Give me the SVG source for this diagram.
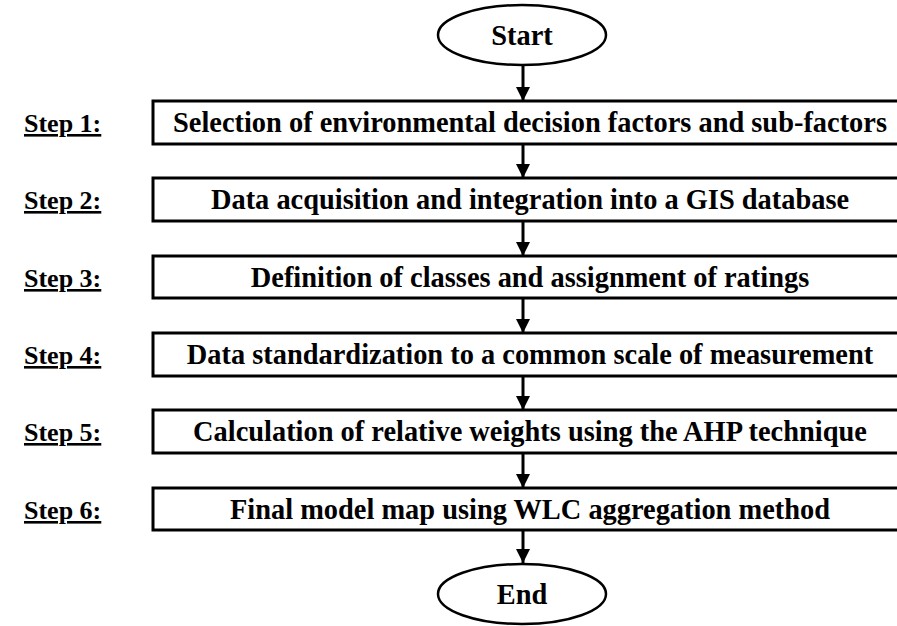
<svg xmlns="http://www.w3.org/2000/svg" width="897" height="626" viewBox="0 0 897 626">
<style>
  .box{fill:#fff;stroke:#000;stroke-width:3}
  .term{fill:#fff;stroke:#000;stroke-width:2.5}
  .t{font-family:"Liberation Serif","Times New Roman",serif;font-weight:bold;font-size:28.4px;fill:#000;text-anchor:middle}
  .s{font-family:"Liberation Serif","Times New Roman",serif;font-weight:bold;font-size:26px;fill:#000;text-decoration:underline}
  .c{stroke:#000;stroke-width:3;fill:none}
</style>
<defs>
  <marker id="ah" markerUnits="userSpaceOnUse" markerWidth="14" markerHeight="14" refX="14" refY="7" orient="auto" viewBox="0 0 14 14">
    <path d="M0,0 L14,7 L0,14 z" fill="#000"/>
  </marker>
</defs>
<rect width="897" height="626" fill="#fff"/>
<g id="connectors">
  <line class="c" x1="523" y1="65" x2="523" y2="101" marker-end="url(#ah)"/>
  <line class="c" x1="523" y1="144" x2="523" y2="178" marker-end="url(#ah)"/>
  <line class="c" x1="523" y1="221" x2="523" y2="256" marker-end="url(#ah)"/>
  <line class="c" x1="523" y1="298" x2="523" y2="333" marker-end="url(#ah)"/>
  <line class="c" x1="523" y1="376" x2="523" y2="410" marker-end="url(#ah)"/>
  <line class="c" x1="523" y1="453" x2="523" y2="488" marker-end="url(#ah)"/>
  <line class="c" x1="523" y1="530" x2="523" y2="563" marker-end="url(#ah)"/>
</g>
<g id="start">
  <ellipse class="term" cx="522" cy="35" rx="84" ry="30"/>
  <text class="t" x="522" y="45">Start</text>
</g>
<g id="step1">
  <text class="s" x="24" y="132">Step 1:</text>
  <rect class="box" x="153" y="101" width="760" height="43"/>
  <text class="t" x="530" y="132">Selection of environmental decision factors and sub-factors</text>
</g>
<g id="step2">
  <text class="s" x="24" y="209">Step 2:</text>
  <rect class="box" x="153" y="178" width="760" height="43"/>
  <text class="t" x="530" y="209">Data acquisition and integration into a GIS database</text>
</g>
<g id="step3">
  <text class="s" x="24" y="287">Step 3:</text>
  <rect class="box" x="153" y="256" width="760" height="42"/>
  <text class="t" x="530" y="287">Definition of classes and assignment of ratings</text>
</g>
<g id="step4">
  <text class="s" x="24" y="364">Step 4:</text>
  <rect class="box" x="153" y="333" width="760" height="43"/>
  <text class="t" x="530" y="364">Data standardization to a common scale of measurement</text>
</g>
<g id="step5">
  <text class="s" x="24" y="441">Step 5:</text>
  <rect class="box" x="153" y="410" width="760" height="43"/>
  <text class="t" x="530" y="441">Calculation of relative weights using the AHP technique</text>
</g>
<g id="step6">
  <text class="s" x="24" y="519">Step 6:</text>
  <rect class="box" x="153" y="488" width="760" height="42"/>
  <text class="t" x="530" y="519">Final model map using WLC aggregation method</text>
</g>
<g id="end">
  <ellipse class="term" cx="522" cy="594" rx="84" ry="30"/>
  <text class="t" x="522" y="604">End</text>
</g>
</svg>
